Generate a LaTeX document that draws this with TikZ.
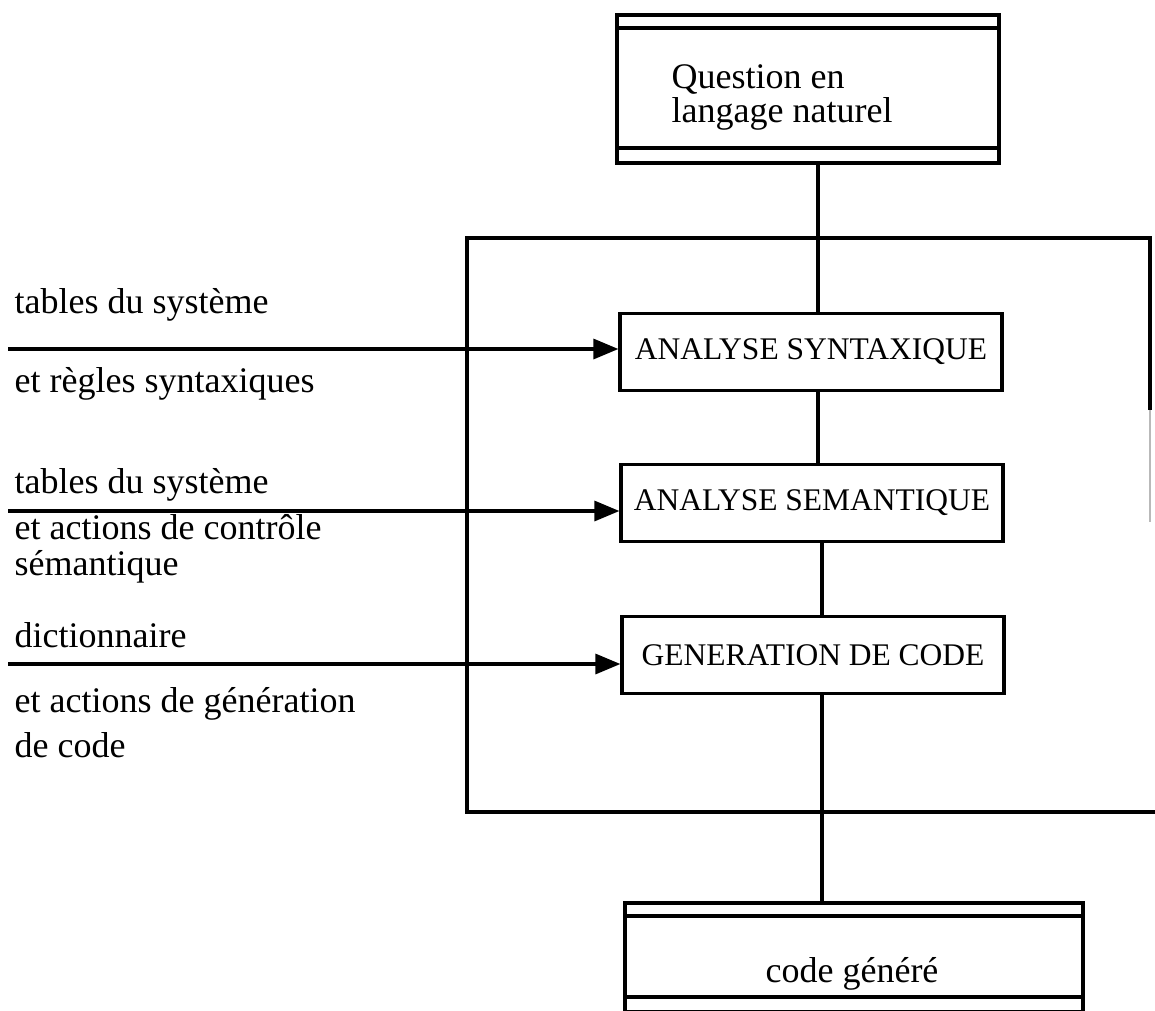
\documentclass[tikz,border=0pt]{standalone}
\usepackage{fontspec}
\setmainfont{Liberation Serif}
\usetikzlibrary{arrows.meta}

\begin{document}
\begin{tikzpicture}[x=1pt, y=-1pt, line width=3.2pt,
    etape/.style={draw, line width=3.2pt, minimum width=382pt, minimum height=77pt,
        inner sep=0pt, font=\fontsize{31.5}{34}\selectfont},
    fichier/.style={draw, line width=3.2pt, inner sep=0pt,
        path picture={
            \draw[line width=3.2pt] ([yshift=-13pt]path picture bounding box.north west)
                -- ([yshift=-13pt]path picture bounding box.north east);
            \draw[line width=3.2pt] ([yshift=15pt]path picture bounding box.south west)
                -- ([yshift=15pt]path picture bounding box.south east);
        }},
    legende/.style={anchor=base west, inner sep=0pt, font=\fontsize{36}{34}\selectfont},
    fleche/.style={-{Triangle[length=25pt,width=20pt]}, line width=3.2pt}]

    \useasboundingbox (0,0) rectangle (1155,1010);

    % cadre du traitement
    \draw (1150,410) |- (467,238) -- (467,812) -- (1155,812);
    \draw[gray!55, line width=1.8pt] (1150,410) -- (1150,522);

    % question en entree
    \node[fichier, minimum width=382pt, minimum height=148pt] (question) at (808,89) {};
    \node[legende, anchor=north west, align=left] (qtexte) at (670,63) {Question en\\langage naturel};

    % les trois etapes
    \node[etape] (syntaxe) at (811,352) {ANALYSE SYNTAXIQUE};
    \node[etape] (semantique) at (812,503) {ANALYSE SEMANTIQUE};
    \node[etape] (generation) at (813,655) {GENERATION DE CODE};

    % code en sortie
    \node[fichier, minimum width=458pt, minimum height=109pt] (code) at (854,957.5) {};
    \node[legende, anchor=base] (ctexte) at (852,982) {code généré};

    % liaisons verticales
    \coordinate (axe) at (818,0);
    \coordinate (axe2) at (822,0);
    \draw (question.south -| axe) -- (syntaxe.north -| axe);
    \draw (syntaxe.south -| axe) -- (semantique.north -| axe);
    \draw (semantique.south -| axe2) -- (generation.north -| axe2);
    \draw (generation.south -| axe2) -- (code.north -| axe2);

    % entrees a gauche
    \coordinate (e1) at (8,349);
    \coordinate (e2) at (8,511);
    \coordinate (e3) at (8,664);
    \draw[fleche] (e1) -- (e1 -| syntaxe.west);
    \draw[fleche] (e2) -- (e2 -| semantique.west);
    \draw[fleche] (e3) -- (e3 -| generation.west);

    \node[legende] (t1a) at (13,313) {tables du système};
    \node[legende] (t1b) at (13,392) {et règles syntaxiques};
    \node[legende] (t2a) at (13,493) {tables du système};
    \node[legende] (t2b) at (13,539) {et actions de contrôle};
    \node[legende] (t2c) at (13,575) {sémantique};
    \node[legende] (t3a) at (13,647) {dictionnaire};
    \node[legende] (t3b) at (13,712) {et actions de génération};
    \node[legende] (t3c) at (13,757) {de code};
\end{tikzpicture}
\end{document}
